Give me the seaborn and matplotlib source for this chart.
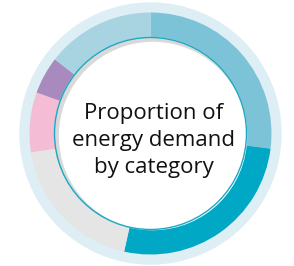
import matplotlib
matplotlib.use("Agg")
import matplotlib.pyplot as plt
import seaborn as sns
from matplotlib.patches import Circle

# share of energy demand, clockwise from 12 o'clock
categories = ["Category A", "Category B", "Category C", "Category D", "Category E", "Category F"]
shares = [27, 26.5, 19, 8, 5, 14.5]
colors = ["#7dc3d8", "#00a8c6", "#e5e5e5", "#f4bcd5", "#a98abf", "#a8d4e2"]
title = "Proportion of\nenergy demand\nby category"

sns.set_theme(style="white")
plt.rcParams["font.family"] = ["Open Sans", "DejaVu Sans"]

fig = plt.figure(figsize=(2.94, 2.66), dpi=100)
ax = fig.add_axes([0, 0, 1, 1])

cx, cy = 150.5, 132.5

# pale halo behind the ring
ax.add_patch(Circle((cx, cy), 130.5, color="#ddeef5", zorder=0))

ax.pie(shares, colors=colors, startangle=90, counterclock=False,
       center=(cx, cy), radius=121,
       wedgeprops=dict(width=25, linewidth=0), frame=True)
ax.set_xlim(0, 294)
ax.set_ylim(0, 266)
ax.set_aspect("equal")
ax.axis("off")

# inner disc with a soft shadow towards the upper left
ax.add_patch(Circle((cx, cy), 96, color="#d9d9d9", zorder=3))
ax.add_patch(Circle((cx + 2.5, cy - 2.5), 93.5, color="white", zorder=4))
ax.add_patch(Circle((cx, cy), 96, fill=False, ec="#1aa9c4", lw=1.0, zorder=5))

ax.text(cx + 3, cy - 7, title, ha="center", va="center", fontsize=16,
        color="#111111", linespacing=1.38, zorder=6)

fig.savefig("out.png", dpi=100)
